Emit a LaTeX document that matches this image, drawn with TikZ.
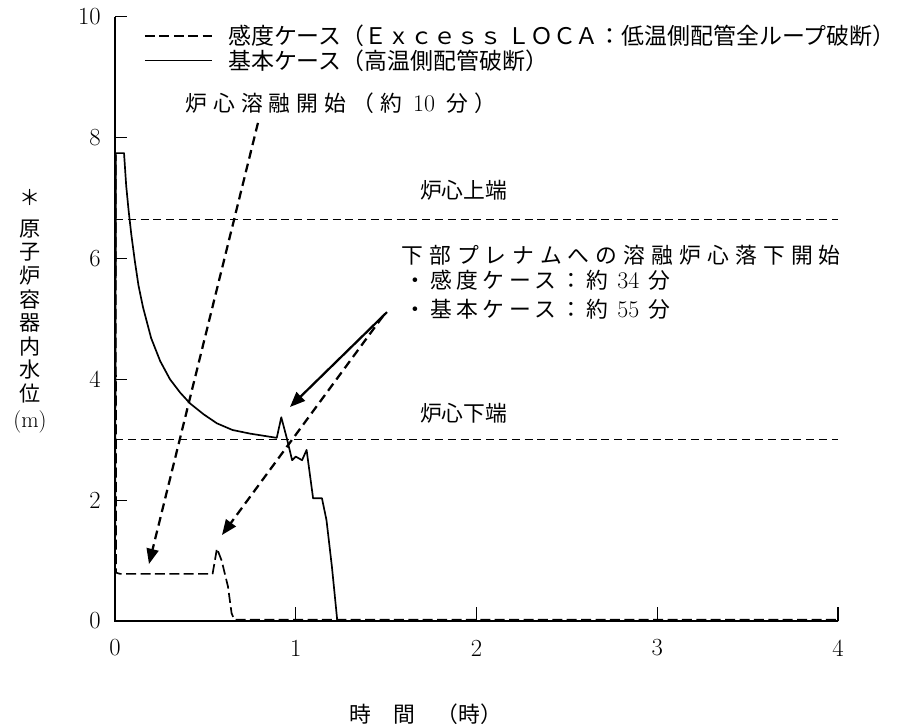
\documentclass[tikz,border=0pt]{standalone}
\usepackage{fontspec}
\newfontfamily\jp{Noto Sans CJK JP}
\newfontfamily\jpwide{Noto Sans CJK JP}[LetterSpace=28]
\newfontfamily\jpmid{Noto Sans CJK JP}[LetterSpace=20]
\usetikzlibrary{arrows.meta}
\tikzset{
  axis/.style={line width=0.8pt},
  curve/.style={line width=1.2pt,line join=round},
  dcurve/.style={curve,dash pattern=on 0.25cm off 0.11cm},
  refline/.style={line width=0.7pt,dash pattern=on 0.2cm off 0.12cm},
  pointer/.style={line width=1.6pt,-{Triangle[length=0.38cm,width=0.3cm]}},
  dpointer/.style={pointer,dash pattern=on 0.22cm off 0.13cm},
  lab/.style={font=\jp\fontsize{15.5}{18}\selectfont,inner sep=0pt,anchor=west},
  num/.style={font=\fontsize{17.5}{20}\selectfont,inner sep=0pt},
}
\newcommand{\pnt}[2]{\coordinate (#1) at (#2);}
\newcommand{\dg}[1]{{\rmfamily\fontsize{17}{18}\selectfont #1}}

\begin{document}
\begin{tikzpicture}[x=4.51875cm,y=1.51125cm]
    \pgfmathsetmacro{\tlen}{0.3};
    \pgfmathsetmacro{\ctop}{6.645};
    \pgfmathsetmacro{\cbot}{3.0};
    \useasboundingbox (-0.6362,-1.7535) rectangle (4.3873,10.2730);
    % axes and ticks
    \draw[axis] (0,10) -- (0,0) -- (4,0);
    \foreach \y in {2,4,...,10} \draw[axis] (0,\y) -- ++(\tlen cm,0);
    \foreach \x in {1,...,4} \draw[axis] (\x,0) -- ++(0,0.35cm);
    \foreach \y in {0,2,...,10} \node[num,anchor=east] (y\y) at ([xshift=-0.35cm]0,\y) {\y};
    \foreach \x in {0,...,4} \node[num] (x\x) at (\x,-0.447) {\x};
    \node[font=\jp\fontsize{15}{16.8}\selectfont,align=center,inner sep=0pt] (ylab) at (-0.47,5.12)
      {＊\\[5pt]原\\子\\炉\\容\\器\\内\\水\\位\\[2pt]{\rmfamily\fontsize{16}{17}\selectfont(m)}};
    \node[lab,anchor=center] (xlab) at (1.72,-1.538) {時　間　（時）};
    % core top / bottom
    \draw[refline] (0,\ctop) -- (4,\ctop);
    \draw[refline] (0,\cbot) -- (4,\cbot);
    \node[lab] (ctop) at (1.687,7.13) {炉心上端};
    \node[lab] (cbot) at (1.687,3.44) {炉心下端};
    % base case
    \draw[curve] plot coordinates {(0,0) (0.005,7.74) (0.05,7.74) (0.062,7.2) (0.075,6.8)
      (0.09,6.4) (0.11,5.95) (0.13,5.55) (0.155,5.19) (0.2,4.68) (0.25,4.3) (0.304,4.0)
      (0.36,3.78) (0.415,3.6) (0.49,3.42) (0.564,3.27) (0.65,3.16) (0.747,3.1) (0.895,3.03)
      (0.92,3.37) (0.95,3.03) (0.98,2.66) (1.0,2.72) (1.035,2.66) (1.06,2.83) (1.096,2.03)
      (1.145,2.03) (1.17,1.67) (1.2,0.9) (1.23,0) (4,0)};
    % sensitivity case
    \draw[dcurve] plot coordinates {(0,0) (0.004,7.7) (0.006,0.8) (0.028,0.78) (0.54,0.78)
      (0.564,1.2) (0.59,1.0) (0.625,0.57) (0.645,0.13) (0.66,0.02) (4,0.02)};
    % legend
    \pnt{lga1}{0.166,9.677}
    \pnt{lga2}{0.537,9.677}
    \pnt{lgb1}{0.166,9.269}
    \pnt{lgb2}{0.537,9.269}
    \draw[dcurve,line width=0.8pt] (lga1) -- (lga2);
    \draw[curve,line width=0.8pt] (lgb1) -- (lgb2);
    \node[lab,font=\jp\fontsize{16.3}{18}\selectfont] (lga) at (0.625,9.677) {感度ケース（Ｅｘｃｅｓｓ ＬＯＣＡ：低温側配管全ループ破断）};
    \node[lab,font=\jp\fontsize{16.3}{18}\selectfont] (lgb) at (0.625,9.269) {基本ケース（高温側配管破断）};
    % annotations
    \node[lab,font=\jpwide\fontsize{15.5}{18}\selectfont] (melt) at (0.387,8.569) {炉心溶融開始（約 \dg{10} 分）};
    \node[lab,font=\jpwide\fontsize{15.5}{18}\selectfont] (plen) at (1.582,6.055) {下部プレナムへの溶融炉心落下開始};
    \node[lab,font=\jpmid\fontsize{15.5}{18}\selectfont] (casea) at (1.6,5.64) {・感度ケース：約 \dg{34} 分};
    \node[lab,font=\jpmid\fontsize{15.5}{18}\selectfont] (caseb) at (1.6,5.16) {・基本ケース：約 \dg{55} 分};
    \pnt{ma}{0.791,8.24}
    \pnt{mb}{0.188,0.943}
    \pnt{sa}{1.483,5.045}
    \pnt{sb}{0.592,1.423}
    \pnt{ba}{1.505,5.11}
    \pnt{bb}{0.968,3.54}
    \draw[dpointer] (ma) -- (mb);
    \draw[dpointer] (sa) -- (sb);
    \draw[pointer] (ba) -- (bb);
\end{tikzpicture}
\end{document}
